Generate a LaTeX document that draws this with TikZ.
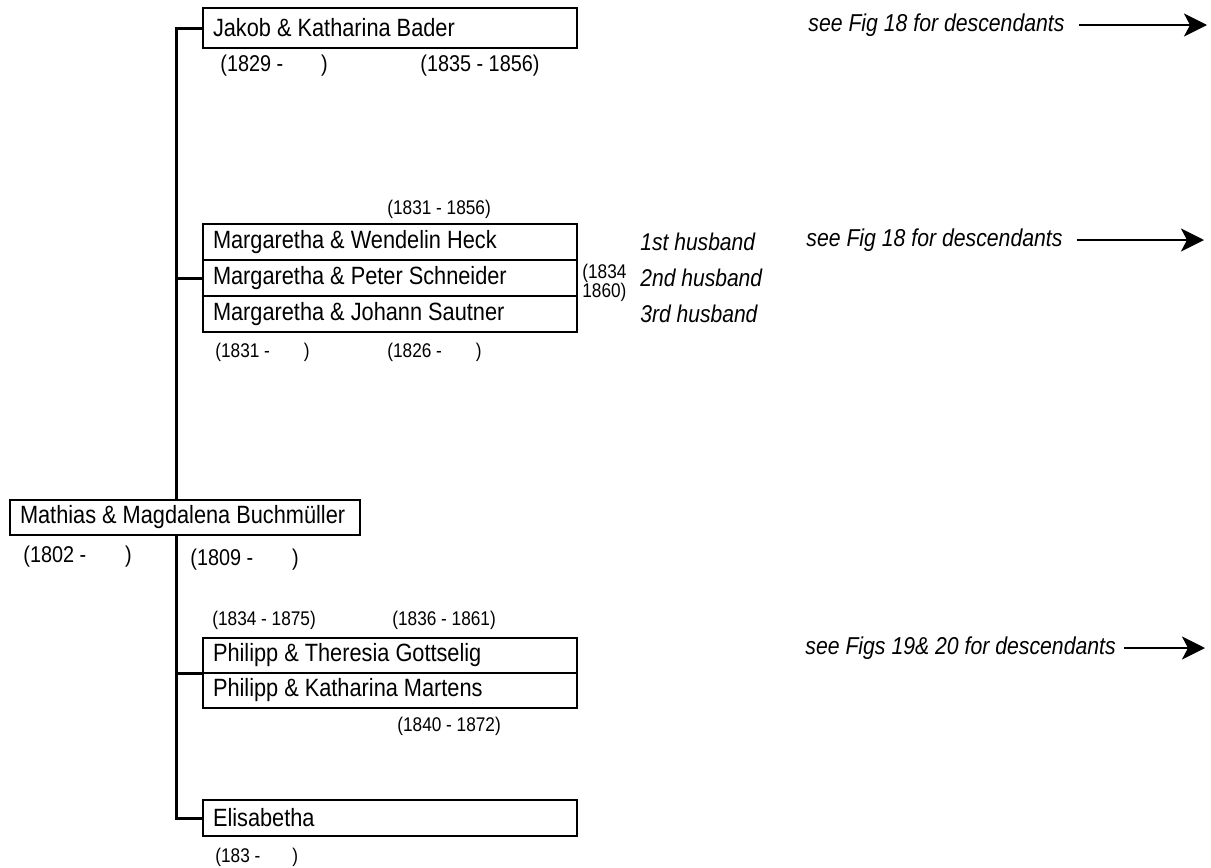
\documentclass[tikz,border=0pt]{standalone}
\usepackage{fontspec}
\setmainfont{Liberation Sans}[FakeStretch=0.87]
\usepackage{tikz}
\usetikzlibrary{arrows.meta,positioning}
\newcommand{\boxtext}[2][177pt]{\makebox[#1][l]{#2}}

\begin{document}
\begin{tikzpicture}[
          x=0.5pt, y=-0.5pt,
          famBox/.style={draw, line width=1.4pt, fill=white, outer sep=0pt,
            inner xsep=5pt, inner ysep=0pt,
            anchor=north west, font=\fontsize{12.5}{15}\selectfont},
          bigDate/.style={anchor=west, inner sep=0pt, font=\fontsize{11.4}{13}\selectfont},
          smallDate/.style={anchor=west, inner sep=0pt, font=\fontsize{9.9}{9.5}\selectfont},
          husb/.style={inner sep=0pt, font=\itshape\fontsize{12.1}{14}\selectfont},
          descTxt/.style={anchor=west, inner sep=0pt, font=\itshape\fontsize{12.2}{14}\selectfont},
          trunkLine/.style={line width=1.5pt},
          descArrow/.style={line width=1.3pt, -{Stealth[length=11.5pt, width=11.5pt, inset=3pt]}}
      ]
        \useasboundingbox (0,0) rectangle (1211,868);
        % children
        \node[famBox, minimum height=20pt] (jakob) at (203,8) {\boxtext{Jakob \& Katharina Bader}};
        \node[bigDate] (jakobB) at (220,66) {(1829 -\hspace{19pt})};
        \node[bigDate] (kathB) at (420,66) {(1835 - 1856)};

        \node[famBox, minimum height=18pt] (marg1) at (203,224) {\boxtext{Margaretha \& Wendelin Heck}};
        \node[famBox, minimum height=18pt, below=0pt of marg1] (marg2) {\boxtext{Margaretha \& Peter Schneider}};
        \node[famBox, minimum height=18pt, below=0pt of marg2] (marg3) {\boxtext{Margaretha \& Johann Sautner}};
        \node[smallDate] (wendB) at (387,209) {(1831 - 1856)};
        \node[smallDate, align=left, right=2.5pt of marg2, yshift=-2.5pt] (peterB) {(1834\\1860)};
        \node[smallDate] (margB) at (215,352) {(1831 -\hspace{17pt})};
        \node[smallDate] (johB) at (387,352) {(1826 -\hspace{17pt})};
        \node[husb, right=31.5pt of marg1] (husb1) {1st husband};
        \node[husb, right=31.5pt of marg2] (husb2) {2nd husband};
        \node[husb, right=31.5pt of marg3] (husb3) {3rd husband};

        \node[smallDate] (philB) at (212,620) {(1834 - 1875)};
        \node[smallDate] (therB) at (392,620) {(1836 - 1861)};
        \node[famBox, minimum height=17.5pt] (phil1) at (203,638) {\boxtext{Philipp \& Theresia Gottselig}};
        \node[famBox, minimum height=17.5pt, below=0pt of phil1] (phil2) {\boxtext{Philipp \& Katharina Martens}};
        \node[smallDate] (martB) at (397,726) {(1840 - 1872)};

        \node[famBox, minimum height=18pt] (elis) at (203,800) {\boxtext{Elisabetha}};
        \node[smallDate] (elisB) at (215,857) {(183 -\hspace{16pt})};

        % family line
        \coordinate (trunk) at (176,0);
        \draw[trunkLine] (jakob.west) -| (trunk |- elis.west) -- (elis.west);
        \draw[trunkLine] (marg2.west) -- (marg2.west -| trunk);
        \draw[trunkLine] (phil1.south west) -- (phil1.south west -| trunk);

        % parents
        \node[famBox, minimum height=17.5pt] (mathias) at (10,500) {\boxtext[165pt]{Mathias \& Magdalena Buchmüller}};
        \node[bigDate] (mathB) at (23,557) {(1802 -\hspace{19.5pt})};
        \node[bigDate] (magdB) at (190,560) {(1809 -\hspace{19.5pt})};

        % pointers to other figures
        \node[descTxt] (see1) at (808,25) {see Fig 18 for descendants};
        \node[descTxt] (see2) at (806,240) {see Fig 18 for descendants};
        \node[descTxt] (see3) at (805,648) {see Figs 19\& 20 for descendants};
        \coordinate (tip1) at (1207,25);
        \coordinate (tip2) at (1204,240);
        \coordinate (tip3) at (1205,648);
        \draw[descArrow] ([xshift=7pt]see1.east) -- (tip1);
        \draw[descArrow] ([xshift=7pt]see2.east) -- (tip2);
        \draw[descArrow] ([xshift=4pt]see3.east) -- (tip3);
      \end{tikzpicture}
\end{document}
